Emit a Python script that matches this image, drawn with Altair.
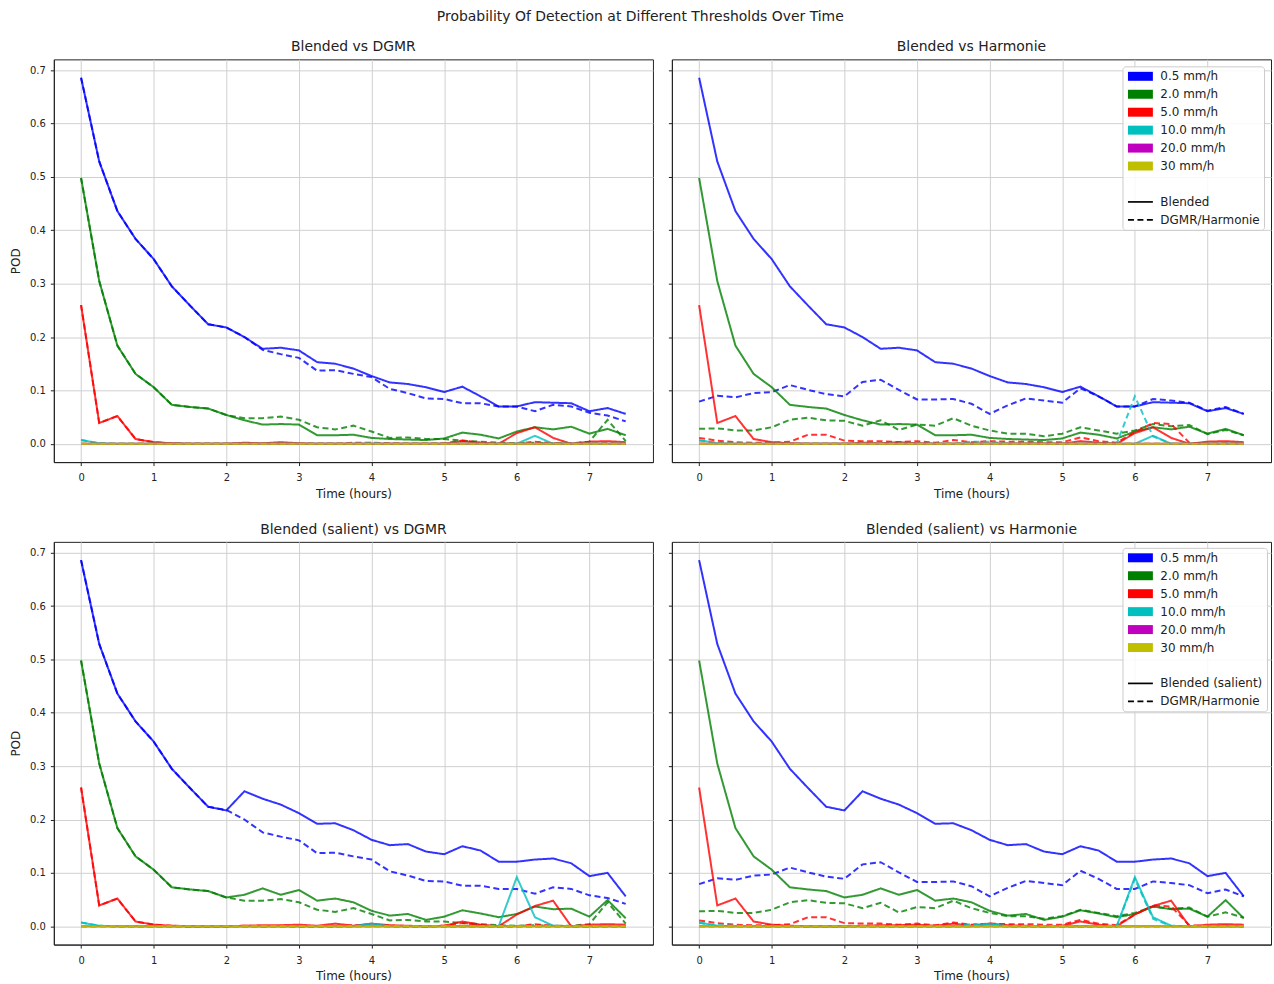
import altair as alt
import pandas as pd

times = [0.0, 0.25, 0.5, 0.75, 1.0, 1.25, 1.5, 1.75, 2.0, 2.25, 2.5, 2.75, 3.0, 3.25, 3.5, 3.75,
         4.0, 4.25, 4.5, 4.75, 5.0, 5.25, 5.5, 5.75, 6.0, 6.25, 6.5, 6.75, 7.0, 7.25, 7.5]

thresholds = ["0.5 mm/h", "2.0 mm/h", "5.0 mm/h", "10.0 mm/h", "20.0 mm/h", "30 mm/h"]
line_colors = ["#0000ff", "#008000", "#ff0000", "#00bfbf", "#bf00bf", "#bfbf00"]

# Blended
blended_05 = [0.686, 0.529, 0.436, 0.384, 0.346, 0.295, 0.259, 0.224, 0.218, 0.200, 0.178, 0.180, 0.175, 0.153, 0.150, 0.141,
              0.127, 0.115, 0.112, 0.106, 0.097, 0.107, 0.089, 0.070, 0.070, 0.078, 0.077, 0.076, 0.061, 0.067, 0.056]
blended_2 = [0.498, 0.305, 0.184, 0.131, 0.106, 0.073, 0.069, 0.066, 0.054, 0.044, 0.036, 0.037, 0.036, 0.016, 0.016, 0.017,
             0.011, 0.009, 0.008, 0.007, 0.010, 0.021, 0.017, 0.010, 0.023, 0.031, 0.027, 0.032, 0.019, 0.028, 0.016]
blended_5 = [0.260, 0.039, 0.052, 0.009, 0.003, 0.001, 0.000, 0.000, 0.000, 0.002, 0.001, 0.003, 0.001, 0.000, 0.000, 0.000,
             0.000, 0.000, 0.000, 0.000, 0.000, 0.005, 0.002, 0.000, 0.020, 0.031, 0.011, 0.000, 0.004, 0.005, 0.003]
blended_10 = [0.007, 0.001, 0.000, 0.000, 0.000, 0.000, 0.000, 0.000, 0.000, 0.000, 0.000, 0.000, 0.000, 0.000, 0.000, 0.000,
              0.000, 0.000, 0.000, 0.000, 0.000, 0.000, 0.000, 0.000, 0.000, 0.015, 0.000, 0.000, 0.000, 0.000, 0.000]
blended_20 = [0.0] * 31
blended_30 = [0.0] * 31

# Blended (salient)
salient_05 = [0.686, 0.529, 0.436, 0.384, 0.346, 0.295, 0.259, 0.224, 0.217, 0.253, 0.239, 0.228, 0.212, 0.192, 0.193, 0.180,
              0.162, 0.152, 0.154, 0.140, 0.135, 0.150, 0.142, 0.121, 0.121, 0.125, 0.127, 0.118, 0.094, 0.100, 0.056]
salient_2 = [0.498, 0.305, 0.184, 0.131, 0.106, 0.073, 0.069, 0.066, 0.054, 0.059, 0.071, 0.059, 0.068, 0.048, 0.052, 0.045,
             0.029, 0.020, 0.023, 0.012, 0.018, 0.030, 0.024, 0.017, 0.023, 0.037, 0.032, 0.033, 0.018, 0.049, 0.015]
salient_5 = [0.260, 0.039, 0.052, 0.009, 0.003, 0.001, 0.000, 0.000, 0.000, 0.001, 0.002, 0.002, 0.003, 0.001, 0.005, 0.001,
             0.005, 0.002, 0.001, 0.000, 0.001, 0.009, 0.003, 0.000, 0.022, 0.038, 0.048, 0.000, 0.003, 0.004, 0.003]
salient_10 = [0.007, 0.001, 0.000, 0.000, 0.000, 0.000, 0.000, 0.000, 0.000, 0.000, 0.000, 0.000, 0.000, 0.000, 0.000, 0.000,
              0.005, 0.000, 0.000, 0.000, 0.000, 0.000, 0.000, 0.000, 0.092, 0.017, 0.001, 0.000, 0.000, 0.000, 0.000]
salient_20 = [0.0] * 31
salient_30 = [0.0] * 31

# DGMR
dgmr_05 = [0.686, 0.529, 0.436, 0.384, 0.346, 0.295, 0.259, 0.224, 0.218, 0.200, 0.176, 0.168, 0.161, 0.137, 0.138, 0.131,
           0.125, 0.103, 0.095, 0.085, 0.084, 0.076, 0.076, 0.070, 0.070, 0.061, 0.073, 0.070, 0.058, 0.053, 0.042]
dgmr_2 = [0.498, 0.305, 0.184, 0.131, 0.106, 0.073, 0.069, 0.066, 0.054, 0.048, 0.048, 0.051, 0.045, 0.031, 0.027, 0.034,
          0.023, 0.011, 0.012, 0.009, 0.009, 0.006, 0.004, 0.002, 0.001, 0.002, 0.001, 0.001, 0.004, 0.045, 0.005]
dgmr_5 = [0.260, 0.039, 0.052, 0.009, 0.003, 0.001, 0.000, 0.000, 0.000, 0.001, 0.000, 0.001, 0.000, 0.000, 0.000, 0.002,
          0.002, 0.001, 0.000, 0.000, 0.001, 0.006, 0.002, 0.000, 0.000, 0.004, 0.001, 0.000, 0.000, 0.001, 0.000]
dgmr_10 = [0.007, 0.001, 0.000, 0.000, 0.000, 0.000, 0.000, 0.000, 0.000, 0.000, 0.000, 0.000, 0.000, 0.000, 0.000, 0.000,
           0.002, 0.000, 0.000, 0.000, 0.000, 0.000, 0.000, 0.000, 0.000, 0.000, 0.000, 0.000, 0.000, 0.000, 0.000]
dgmr_20 = [0.0] * 31
dgmr_30 = [0.0] * 31

# Harmonie
harm_05 = [0.079, 0.090, 0.087, 0.095, 0.097, 0.110, 0.101, 0.093, 0.089, 0.116, 0.120, 0.101, 0.083, 0.083, 0.084, 0.075,
           0.056, 0.072, 0.085, 0.081, 0.077, 0.104, 0.089, 0.070, 0.070, 0.084, 0.081, 0.077, 0.062, 0.069, 0.056]
harm_2 = [0.028, 0.029, 0.025, 0.025, 0.031, 0.045, 0.049, 0.044, 0.043, 0.034, 0.044, 0.026, 0.036, 0.034, 0.048, 0.034,
          0.025, 0.019, 0.019, 0.014, 0.019, 0.031, 0.025, 0.019, 0.025, 0.037, 0.033, 0.035, 0.018, 0.026, 0.016]
harm_5 = [0.011, 0.006, 0.003, 0.002, 0.002, 0.004, 0.017, 0.017, 0.006, 0.005, 0.005, 0.003, 0.005, 0.002, 0.007, 0.003,
          0.005, 0.004, 0.004, 0.003, 0.003, 0.012, 0.005, 0.002, 0.022, 0.039, 0.037, 0.002, 0.000, 0.001, 0.000]
harm_10 = [0.006, 0.002, 0.001, 0.000, 0.000, 0.000, 0.000, 0.000, 0.000, 0.000, 0.000, 0.000, 0.000, 0.000, 0.000, 0.004,
           0.004, 0.000, 0.000, 0.000, 0.000, 0.000, 0.000, 0.000, 0.089, 0.014, 0.000, 0.000, 0.000, 0.000, 0.000]
harm_20 = [0.0] * 31
harm_30 = [0.0] * 31

blended = [blended_05, blended_2, blended_5, blended_10, blended_20, blended_30]
salient = [salient_05, salient_2, salient_5, salient_10, salient_20, salient_30]
dgmr = [dgmr_05, dgmr_2, dgmr_5, dgmr_10, dgmr_20, dgmr_30]
harm = [harm_05, harm_2, harm_5, harm_10, harm_20, harm_30]

x_ticks = [0, 1, 2, 3, 4, 5, 6, 7]
y_ticks = [0.0, 0.1, 0.2, 0.3, 0.4, 0.5, 0.6, 0.7]

# legend (drawn by Vega-Lite's legend from these entries)
legend_gap = " "
legend_colors = line_colors + ["#ffffff", "#000000", "#000000"]
PATCH = "M-2.5,-0.9H2.5V0.9H-2.5Z"
SOLID = "M-2.5,-0.17H2.5V0.17H-2.5Z"
DASHED = "M-2.5,-0.17H-1.3V0.17H-2.5Z M-0.6,-0.17H0.6V0.17H-0.6Z M1.3,-0.17H2.5V0.17H1.3Z"
BLANK = "M0,0H0.01V0.01H0Z"
legend_shapes = [PATCH] * 6 + [BLANK, SOLID, DASHED]

FONT = "DejaVu Sans"
W, H = 601, 404


def panel_df(main, ref):
    rows = []
    for ti, thr in enumerate(thresholds):
        for src, series in (("main", main[ti]), ("ref", ref[ti])):
            for t, v in zip(times, series):
                rows.append({"t": t, "pod": v, "thr": thr, "src": src})
    return pd.DataFrame(rows)


def panel(title, main, ref, left, legend_labels=None, legend_y=6):
    df = panel_df(main, ref)
    lines = alt.Chart(df).mark_line(strokeWidth=2, opacity=0.8, clip=True).encode(
        x=alt.X("t:Q", scale=alt.Scale(domain=[-0.375, 7.875], nice=False, zero=False),
                axis=alt.Axis(values=x_ticks, format="d", title="Time (hours)")),
        y=alt.Y("pod:Q", scale=alt.Scale(domain=[-0.0343, 0.7203], nice=False, zero=False),
                axis=alt.Axis(values=y_ticks, format=".1f", title="POD" if left else None, labels=left)),
        color=alt.Color("thr:N", scale=alt.Scale(domain=thresholds, range=line_colors), legend=None),
        strokeDash=alt.StrokeDash("src:N", scale=alt.Scale(domain=["main", "ref"], range=[[1, 0], [6, 3.5]]),
                                  legend=None),
    )
    layers = [lines]
    if legend_labels is not None:
        keys = thresholds + [legend_gap] + legend_labels
        leg = alt.Legend(title=None, orient="none", legendX=452, legendY=legend_y, labelFont=FONT, labelFontSize=12,
                         labelColor="#222", symbolSize=100, symbolStrokeWidth=0, symbolOffset=8, labelOffset=14,
                         rowPadding=6, padding=4, fillColor="rgba(255,255,255,0.85)", strokeColor="#cccccc",
                         cornerRadius=3, symbolOpacity=1)
        lg = alt.Chart(pd.DataFrame({"key": keys})).mark_point(filled=True, size=100, opacity=1).encode(
            color=alt.Color("key:N", scale=alt.Scale(domain=keys, range=legend_colors), legend=leg),
            shape=alt.Shape("key:N", scale=alt.Scale(domain=keys, range=legend_shapes), legend=leg),
        ).transform_filter("false")
        layers.append(lg)
    ch = alt.layer(*layers).properties(
        width=W, height=H,
        title=alt.TitleParams(title, fontSize=14, fontWeight="normal", font=FONT, color="#222", offset=5),
    )
    if legend_labels is not None:
        ch = ch.resolve_scale(color="independent").resolve_legend(color="independent", shape="independent")
    return ch


tl = panel("Blended vs DGMR", blended, dgmr, True)
tr = panel("Blended vs Harmonie", blended, harm, False, ["Blended", "DGMR/Harmonie"], 7)
bl = panel("Blended (salient) vs DGMR", salient, dgmr, True)
br = panel("Blended (salient) vs Harmonie", salient, harm, False, ["Blended (salient)", "DGMR/Harmonie"], 6)


def indep(c):
    return c.resolve_scale(color="independent", shape="independent", strokeDash="independent").resolve_legend(
        color="independent", shape="independent", strokeDash="independent")


top = indep(alt.hconcat(tl, tr, spacing=13))
bottom = indep(alt.hconcat(bl, br, spacing=13))

chart = indep(alt.vconcat(top, bottom, spacing=22)).properties(
    title=alt.TitleParams("Probability Of Detection at Different Thresholds Over Time", fontSize=14,
                          fontWeight="normal", font=FONT, color="#222", anchor="middle", offset=16),
    padding={"left": 9, "top": 8, "right": 2, "bottom": 5},
).configure(font=FONT).configure_view(
    stroke="#222", strokeWidth=1
).configure_axis(
    labelFont=FONT, titleFont=FONT, labelFontSize=10, titleFontSize=12, titleFontWeight="normal",
    labelColor="#222", titleColor="#222", tickColor="#222", domainColor="#222", tickSize=3.5,
    gridColor="#d0d0d0", gridWidth=1, labelPadding=4, titlePadding=4,
).configure_axisX(labelPadding=7, titlePadding=6).configure_axisY(labelPadding=5, titlePadding=7)

chart.save("out.html", embed_options={"renderer": "svg", "actions": False})
